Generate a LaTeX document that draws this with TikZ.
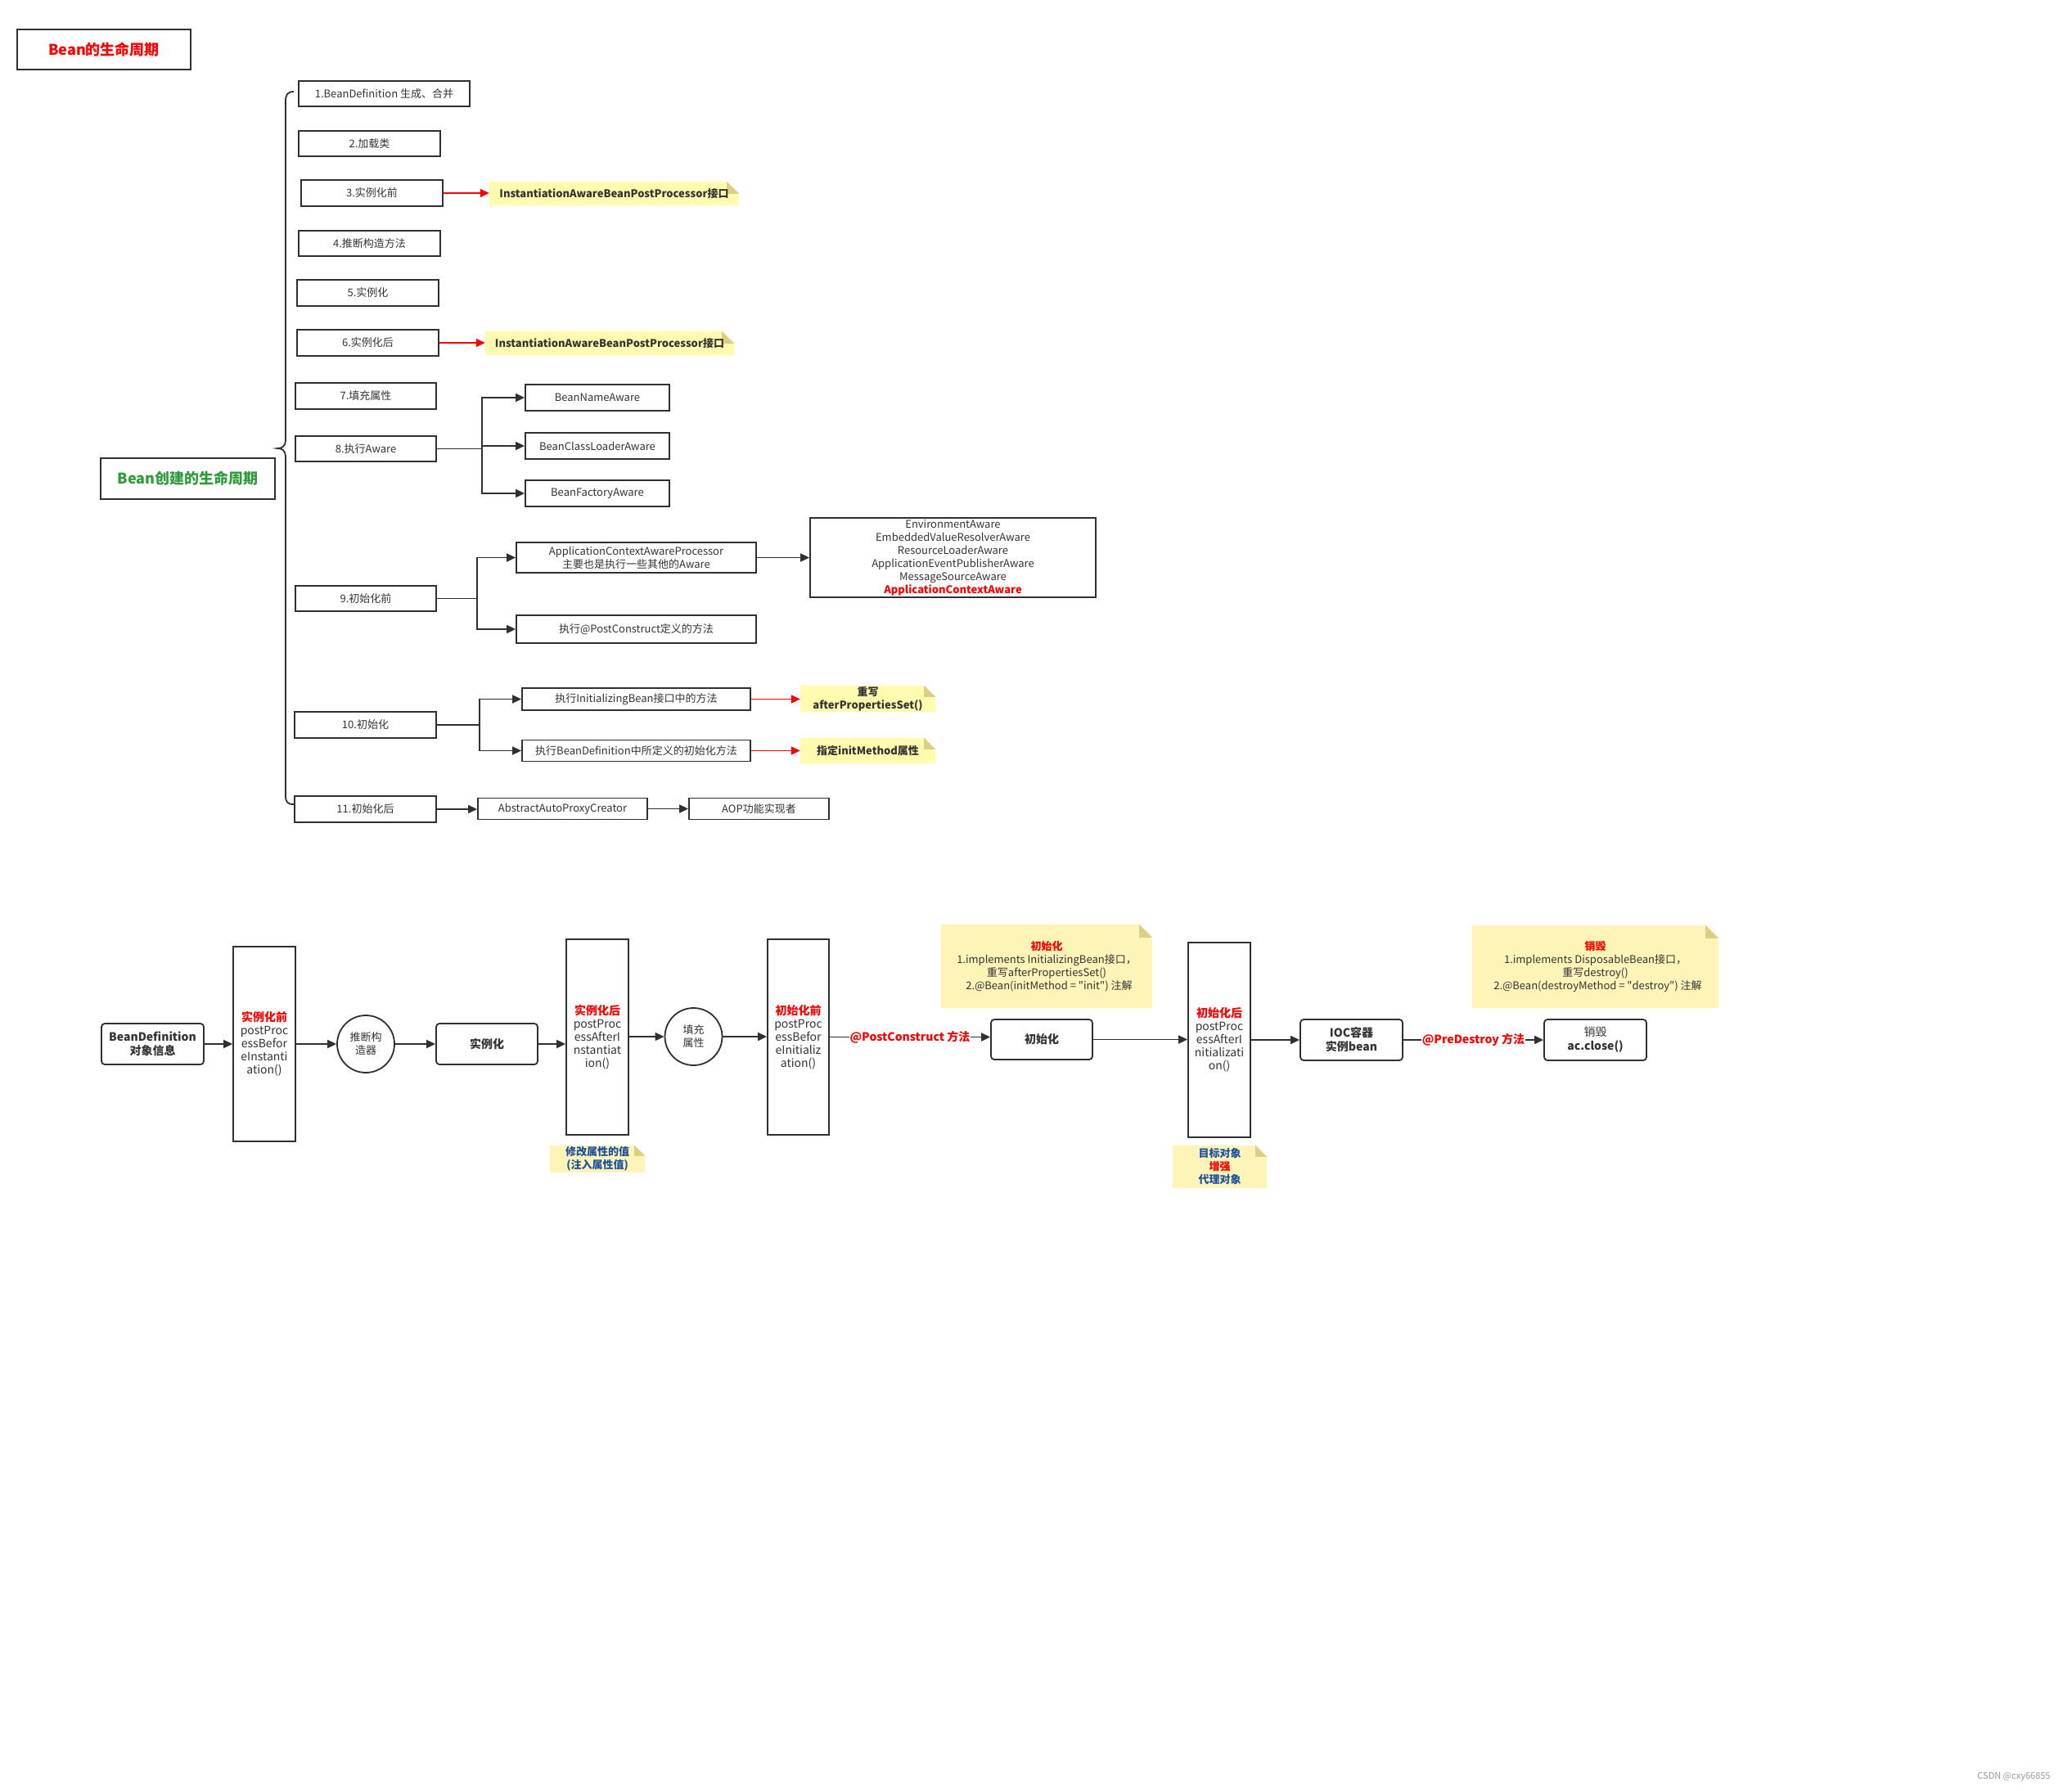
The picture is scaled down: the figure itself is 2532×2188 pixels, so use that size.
\documentclass[tikz,border=0pt]{standalone}
\usepackage{fontspec}
\setmainfont{Noto Sans CJK SC}
\newfontfamily\qfont{Noto Sans CJK SC}
\usetikzlibrary{arrows.meta,backgrounds}
\definecolor{bordc}{HTML}{2E3033}
\definecolor{txtc}{HTML}{333333}
\definecolor{notetop}{HTML}{FFFCB0}
\definecolor{notebot}{HTML}{FFF4B8}
\definecolor{foldc}{HTML}{DCCF85}
\definecolor{bluec}{HTML}{1B4FA0}
\definecolor{greenc}{HTML}{2E9B3B}
\newcommand\fsz[2]{\fontsize{#1}{#2}\selectfont}
\newcommand\qq{{\qfont"}}
\newcommand\notebg[3]{% color, name, fold
  \fill[#1] (#2.north west) -- ([xshift=-#3pt]#2.north east) -- ([yshift=-#3pt]#2.north east) -- (#2.south east) -- (#2.south west) -- cycle;
  \fill[foldc] ([xshift=-#3pt]#2.north east) -- ([xshift=-#3pt,yshift=-#3pt]#2.north east) -- ([yshift=-#3pt]#2.north east) -- cycle;}
\begin{document}
\begin{tikzpicture}[x=1pt,y=-1pt,
  box/.style={draw=bordc,line width=1.8pt,fill=white,inner sep=0pt,align=center,text=txtc,font=\fsz{13}{16}},
  rbox/.style={box,rounded corners=4pt,font=\fsz{14}{17}\bfseries},
  tall/.style={box,font=\fsz{14}{16}},
  circ/.style={draw=bordc,line width=1.8pt,fill=white,circle,inner sep=0pt,minimum size=70pt,align=center,text=txtc,font=\fsz{13}{16}},
  note/.style={inner sep=0pt,align=center,text=txtc,font=\fsz{13}{16}\bfseries},
  arr/.style={draw=bordc,line width=1.8pt,-{Triangle[length=11pt,width=10pt]}},
  rarr/.style={arr,draw=red},
  lbl/.style={fill=white,inner sep=1pt,text=red,font=\fsz{14}{16}\bfseries}]
\useasboundingbox (0,0) rectangle (2532,2188);

% ---------------- top part ----------------
\node[box,font=\fsz{18}{22}\bfseries,text=red,minimum width=212pt,minimum height=49pt] (title) at (127,60.5) {Bean的生命周期};
\node[box,font=\fsz{18}{22}\bfseries,text=greenc,minimum width=213pt,minimum height=50pt] (create) at (229.5,585) {Bean创建的生命周期};

\draw[bordc,line width=1.8pt] (359,112) .. controls (351,112) and (349,116) .. (349,124)
  -- (349,538) .. controls (349,545) and (345,548) .. (339,548)
  .. controls (345,548) and (349,551) .. (349,558)
  -- (349,972) .. controls (349,980) and (351,983) .. (359,983);

\node[box,minimum width=209pt,minimum height=31pt] (b1) at (469.5,114.5) {1.BeanDefinition 生成、合并};
\node[box,minimum width=173pt,minimum height=31pt] (b2) at (451.5,175.5) {2.加载类};
\node[box,minimum width=173pt,minimum height=32pt] (b3) at (454.5,236) {3.实例化前};
\node[box,minimum width=173pt,minimum height=31pt] (b4) at (451.5,297.5) {4.推断构造方法};
\node[box,minimum width=173pt,minimum height=32pt] (b5) at (449.5,358) {5.实例化};
\node[box,minimum width=173pt,minimum height=32pt] (b6) at (449.5,419) {6.实例化后};
\node[box,minimum width=172pt,minimum height=32pt] (b7) at (447,484) {7.填充属性};
\node[box,minimum width=172pt,minimum height=31pt] (b8) at (447,548.5) {8.执行Aware};
\node[box,minimum width=172pt,minimum height=31pt] (b9) at (447,731.5) {9.初始化前};
\node[box,minimum width=173pt,minimum height=32pt] (b10) at (446.5,886) {10.初始化};
\node[box,minimum width=173pt,minimum height=32pt] (b11) at (446.5,989) {11.初始化后};

\node[note,minimum width=305pt,minimum height=29pt] (n3) at (750.5,236.5) {InstantiationAwareBeanPostProcessor接口};
\node[note,minimum width=304pt,minimum height=29pt] (n6) at (745,419.5) {InstantiationAwareBeanPostProcessor接口};

\node[box,minimum width=176pt,minimum height=32pt] (bna) at (730,486) {BeanNameAware};
\node[box,minimum width=176pt,minimum height=32pt] (bcla) at (730,545) {BeanClassLoaderAware};
\node[box,minimum width=176pt,minimum height=32pt] (bfa) at (730,603) {BeanFactoryAware};

\node[box,minimum width=293pt,minimum height=37pt] (acap) at (777.5,681.5) {ApplicationContextAwareProcessor\\主要也是执行一些其他的Aware};
\node[box,minimum width=293pt,minimum height=34pt] (pcm) at (777.5,769) {执行@PostConstruct定义的方法};
\node[box,minimum width=349pt,minimum height=97pt] (awl) at (1164.5,681.5) {EnvironmentAware\\EmbeddedValueResolverAware\\ResourceLoaderAware\\ApplicationEventPublisherAware\\MessageSourceAware\\\textcolor{red}{\bfseries ApplicationContextAware}};

\node[box,minimum width=279pt,minimum height=27pt] (ib) at (777.5,854.5) {执行InitializingBean接口中的方法};
\node[box,minimum width=279pt,minimum height=26pt] (bdi) at (777.5,917.5) {执行BeanDefinition中所定义的初始化方法};
\node[note,minimum width=165pt,minimum height=32pt] (nap) at (1060.5,854) {重写\\afterPropertiesSet()};
\node[note,minimum width=165pt,minimum height=31pt] (nim) at (1060.5,917.5) {指定initMethod属性};

\node[box,minimum width=207pt,minimum height=26pt] (aapc) at (687.5,988.5) {AbstractAutoProxyCreator};
\node[box,minimum width=171pt,minimum height=26pt] (aop) at (927.5,988.5) {AOP功能实现者};

\draw[rarr] (b3.east) -- (n3.west |- b3.east);
\draw[rarr] (b6.east) -- (n6.west |- b6.east);
\draw[arr] (b8.east) -- ++(55,0) |- (bna.west);
\draw[arr] (b8.east) -- ++(55,0) |- (bcla.west);
\draw[arr] (b8.east) -- ++(55,0) |- (bfa.west);
\draw[arr] (b9.east) -- ++(49,0) |- (acap.west);
\draw[arr] (b9.east) -- ++(49,0) |- (pcm.west);
\draw[arr] (acap.east) -- (awl.west |- acap.east);
\draw[arr] (b10.east) -- ++(52,0) |- (ib.west);
\draw[arr] (b10.east) -- ++(52,0) |- (bdi.west);
\draw[rarr] (ib.east) -- (nap.west |- ib.east);
\draw[rarr] (bdi.east) -- (nim.west |- bdi.east);
\draw[arr] (b11.east) -- (aapc.west |- b11.east);
\draw[arr] (aapc.east) -- (aop.west);

% ---------------- bottom part ----------------
\node[rbox,minimum width=125pt,minimum height=50pt] (bd) at (186.5,1276) {BeanDefinition\\对象信息};
\node[tall,minimum width=76pt,minimum height=238pt] (ppbi) at (323,1276) {\textcolor{red}{\bfseries 实例化前}\\postProc\\essBefor\\eInstanti\\ation()};
\node[circ] (c1) at (447,1276) {推断构\\造器};
\node[rbox,minimum width=124pt,minimum height=50pt] (inst) at (595,1276) {实例化};
\node[tall,minimum width=76pt,minimum height=239pt] (ppai) at (730,1267.5) {\textcolor{red}{\bfseries 实例化后}\\postProc\\essAfterI\\nstantiat\\ion()};
\node[note,text=bluec,font=\fsz{13}{16}\bfseries,minimum width=116pt,minimum height=33pt] (nmod) at (730,1416.5) {修改属性的值\\(注入属性值)};
\node[circ] (c2) at (847.5,1267) {填充\\属性};
\node[tall,minimum width=75pt,minimum height=239pt] (ppbinit) at (975.5,1267.5) {\textcolor{red}{\bfseries 初始化前}\\postProc\\essBefor\\eInitializ\\ation()};
\node[rbox,minimum width=124pt,minimum height=49pt] (init) at (1273,1270.5) {初始化};
\node[note,font=\fsz{13}{16},minimum width=258pt,minimum height=102pt] (ninit) at (1279,1181) {\textcolor{red}{\bfseries 初始化}\\1.implements InitializingBean接口，\\重写afterPropertiesSet()\\\ \ 2.@Bean(initMethod = \qq init\qq) 注解};
\node[tall,minimum width=76pt,minimum height=238pt] (ppainit) at (1490,1271) {\textcolor{red}{\bfseries 初始化后}\\postProc\\essAfterI\\nitializati\\on()};
\node[note,font=\fsz{13}{16}\bfseries,minimum width=115pt,minimum height=52pt] (ntgt) at (1490.5,1426) {\textcolor{bluec}{目标对象}\\\textcolor{red}{增强}\\\textcolor{bluec}{代理对象}};
\node[rbox,minimum width=125pt,minimum height=50pt] (ioc) at (1651.5,1271) {IOC容器\\实例bean};
\node[rbox,minimum width=125pt,minimum height=50pt] (des) at (1949.5,1271) {{\mdseries 销毁}\\ac.close()};
\node[note,font=\fsz{13}{16},minimum width=301pt,minimum height=101pt] (ndes) at (1949.5,1181.5) {\textcolor{red}{\bfseries 销毁}\\1.implements DisposableBean接口，\\重写destroy()\\\ \ 2.@Bean(destroyMethod = \qq destroy\qq) 注解};

\draw[arr] (bd.east) -- (ppbi.west |- bd.east);
\draw[arr] (ppbi.east |- c1.west) -- (c1.west);
\draw[arr] (c1.east) -- (inst.west);
\draw[arr] (inst.east) -- (ppai.west |- inst.east);
\draw[arr] (ppai.east |- c2.west) -- (c2.west);
\draw[arr] (c2.east) -- (ppbinit.west |- c2.east);
\draw[arr] (ppbinit.east) -- node[lbl] {@PostConstruct 方法} (ppbinit.east -| init.west);
\draw[arr] (init.east) -- (ppainit.west |- init.east);
\draw[arr] (ppainit.east) -- (ioc.west |- ppainit.east);
\draw[arr] (ioc.east) -- node[lbl] {@PreDestroy 方法} (des.west);

\node[text=gray!80,font=\fsz{11}{13}] (wm) at (2461,2172) {CSDN @cxy66855};

\begin{scope}[on background layer]
  \fill[white] (0,0) rectangle (2532,2188);
  \notebg{notetop}{n3}{15}
  \notebg{notetop}{n6}{15}
  \notebg{notetop}{nap}{14}
  \notebg{notetop}{nim}{14}
  \notebg{notebot}{nmod}{13}
  \notebg{notebot}{ninit}{16}
  \notebg{notebot}{ntgt}{14}
  \notebg{notebot}{ndes}{16}
\end{scope}
\end{tikzpicture}
\end{document}
